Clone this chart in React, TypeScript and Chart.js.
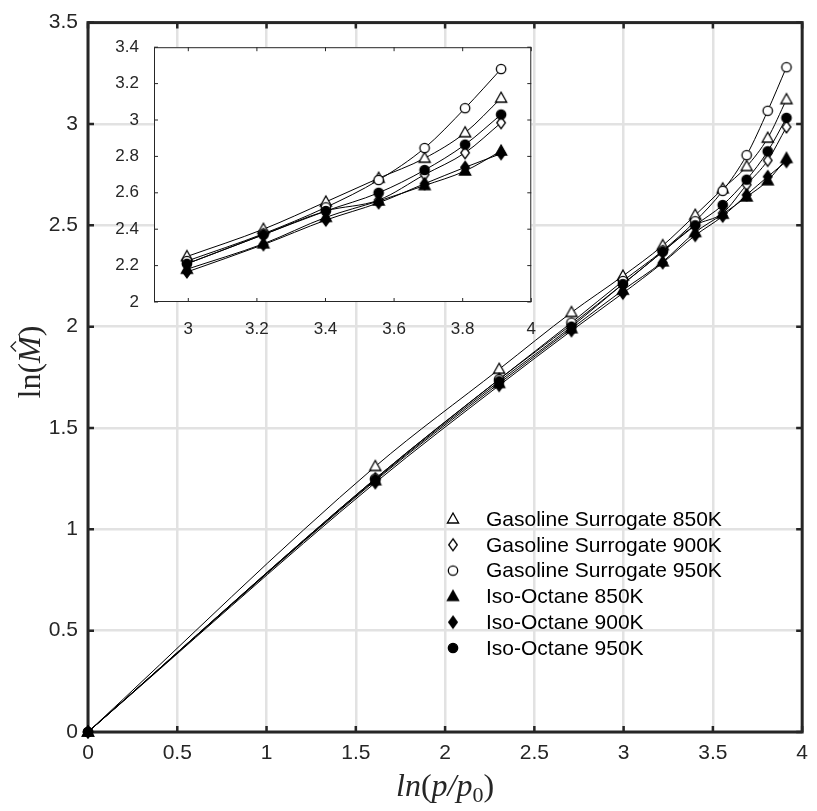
import React, { useEffect, useRef } from "react";
import { Chart, registerables } from "chart.js";

Chart.register(...registerables);

// ---------- data ----------
const X_VALUES = [0, 1.609, 2.303, 2.708, 2.996, 3.219, 3.401, 3.555, 3.689, 3.807, 3.912];
const GS_850 = [0, 1.31, 1.79, 2.07, 2.25, 2.4, 2.55, 2.68, 2.79, 2.93, 3.12];
const GS_900 = [0, 1.25, 1.74, 2.01, 2.21, 2.37, 2.5, 2.56, 2.7, 2.82, 2.985];
const GS_950 = [0, 1.25, 1.74, 2.02, 2.225, 2.375, 2.52, 2.67, 2.846, 3.065, 3.28];
const IO_850 = [0, 1.24, 1.72, 1.99, 2.18, 2.32, 2.465, 2.555, 2.64, 2.72, 2.83];
const IO_900 = [0, 1.23, 1.71, 1.98, 2.165, 2.315, 2.45, 2.545, 2.65, 2.74, 2.815];
const IO_950 = [0, 1.245, 1.73, 2.0, 2.21, 2.37, 2.5, 2.6, 2.725, 2.865, 3.03];

const SERIES_LABELS = [
  "Gasoline Surrogate 850K",
  "Gasoline Surrogate 900K",
  "Gasoline Surrogate 950K",
  "Iso-Octane 850K",
  "Iso-Octane 900K",
  "Iso-Octane 950K",
];
const SERIES_VALUES = [GS_850, GS_900, GS_950, IO_850, IO_900, IO_950];
const SERIES_SHAPES = ["triangle", "diamond", "circle", "triangle", "diamond", "circle"];
const SERIES_FILLED = [false, false, false, true, true, true];

const X_TICKS = [0, 0.5, 1, 1.5, 2, 2.5, 3, 3.5, 4];
const Y_TICKS = [0, 0.5, 1, 1.5, 2, 2.5, 3, 3.5];
const INSET_X_TICKS = [3, 3.2, 3.4, 3.6, 3.8, 4];
const INSET_Y_TICKS = [2, 2.2, 2.4, 2.6, 2.8, 3, 3.2, 3.4];
const INSET_X_MIN = 2.9;
const INSET_FIRST_X = 2.99; // inset shows points from ln(20) onward

// ---------- helpers ----------
const AXIS_COLOR = "#262626";
const GRID_COLOR = "#e2e2e2";
const SANS = "'Liberation Sans', Arial, sans-serif";
const SERIF = "'Liberation Serif', 'Times New Roman', serif";

function makeMarker(shape: string, filled: boolean): HTMLCanvasElement {
  const c = document.createElement("canvas");
  c.width = 18;
  c.height = 18;
  const g = c.getContext("2d")!;
  const cx = 9, cy = 9;
  g.beginPath();
  if (shape === "triangle") {
    g.moveTo(cx, cy - 6);
    g.lineTo(cx + 5.6, cy + 4);
    g.lineTo(cx - 5.6, cy + 4);
    g.closePath();
  } else if (shape === "diamond") {
    g.moveTo(cx, cy - 6);
    g.lineTo(cx + 4.3, cy);
    g.lineTo(cx, cy + 6);
    g.lineTo(cx - 4.3, cy);
    g.closePath();
  } else {
    g.arc(cx, cy, 4.7, 0, Math.PI * 2);
  }
  g.fillStyle = filled ? "#000" : "#fff";
  g.fill();
  g.lineWidth = 1.3;
  g.strokeStyle = "#000";
  g.stroke();
  return c;
}

const fmt = (v: number) => String(+Number(v).toFixed(2));

function buildDatasets(markers: HTMLCanvasElement[], minX: number) {
  return SERIES_LABELS.map((label, i) => ({
    label,
    data: X_VALUES.map((x, k) => ({ x, y: SERIES_VALUES[i][k] })).filter((p) => p.x >= minX),
    borderColor: "#000",
    borderWidth: 1,
    pointStyle: markers[i],
    pointRadius: 5,
    pointHoverRadius: 5,
    cubicInterpolationMode: "monotone" as const,
    fill: false,
    clip: false as const,
    order: SERIES_LABELS.length - i,
  }));
}

function drawInwardTicks(chart: any, xTicks: number[], yTicks: number[], len: number, width: number) {
  const { ctx, chartArea: a, scales } = chart;
  ctx.save();
  ctx.strokeStyle = AXIS_COLOR;
  ctx.lineWidth = width;
  ctx.beginPath();
  xTicks.forEach((v) => {
    const px = scales.x.getPixelForValue(v);
    ctx.moveTo(px, a.bottom);
    ctx.lineTo(px, a.bottom - len);
    ctx.moveTo(px, a.top);
    ctx.lineTo(px, a.top + len);
  });
  yTicks.forEach((v) => {
    const py = scales.y.getPixelForValue(v);
    ctx.moveTo(a.left, py);
    ctx.lineTo(a.left + len, py);
    ctx.moveTo(a.right, py);
    ctx.lineTo(a.right - len, py);
  });
  ctx.stroke();
  ctx.restore();
}

export default function App() {
  const mainRef = useRef<HTMLCanvasElement>(null);
  const insetRef = useRef<HTMLCanvasElement>(null);

  useEffect(() => {
    const markers = SERIES_SHAPES.map((s, i) => makeMarker(s, SERIES_FILLED[i]));

    const mainFrame = {
      id: "mainFrame",
      beforeDatasetsDraw(chart: any) {
        const { ctx, chartArea: a } = chart;
        drawInwardTicks(chart, X_TICKS, Y_TICKS, 6, 2.5);
        ctx.save();
        ctx.strokeStyle = AXIS_COLOR;
        ctx.lineWidth = 3;
        ctx.strokeRect(a.left, a.top, a.right - a.left, a.bottom - a.top);
        ctx.restore();
      },
      afterDraw(chart: any) {
        const { ctx, chartArea: a } = chart;
        ctx.save();
        // legend
        const lx = 453, tx = 486, ly0 = 519, dy = 25.8;
        ctx.font = `21px ${SANS}`;
        ctx.fillStyle = "#000";
        ctx.textBaseline = "middle";
        ctx.textAlign = "left";
        SERIES_LABELS.forEach((lab, i) => {
          const y = ly0 + i * dy;
          ctx.drawImage(markers[i], lx - 9, y - 9);
          ctx.fillText(lab, tx, y + 1);
        });

        // x-axis title: ln(p/p0)
        const fs = 32;
        const it = `italic ${fs}px ${SERIF}`;
        const up = `${fs}px ${SERIF}`;
        const sub = `${Math.round(fs * 0.7)}px ${SERIF}`;
        const segs = [
          { t: "ln", f: it, dy: 0 },
          { t: "(", f: up, dy: 0 },
          { t: "p/p", f: it, dy: 0 },
          { t: "0", f: sub, dy: 6 },
          { t: ")", f: up, dy: 0 },
        ];
        let total = 0;
        segs.forEach((s) => {
          ctx.font = s.f;
          total += ctx.measureText(s.t).width;
        });
        let x = (a.left + a.right) / 2 - total / 2;
        ctx.fillStyle = AXIS_COLOR;
        ctx.textBaseline = "alphabetic";
        const baseY = 796;
        segs.forEach((s) => {
          ctx.font = s.f;
          ctx.fillText(s.t, x, baseY + s.dy);
          x += ctx.measureText(s.t).width;
        });

        // y-axis title: ln(M^)
        ctx.translate(40, 362);
        ctx.rotate(-Math.PI / 2);
        const ysegs = [
          { t: "ln", f: up },
          { t: "(", f: up },
          { t: "M", f: it },
          { t: ")", f: up },
        ];
        let ytot = 0;
        ysegs.forEach((s) => {
          ctx.font = s.f;
          ytot += ctx.measureText(s.t).width;
        });
        let yx = -ytot / 2;
        ysegs.forEach((s) => {
          ctx.font = s.f;
          const w = ctx.measureText(s.t).width;
          ctx.fillText(s.t, yx, 0);
          if (s.t === "M") {
            const hx = yx + w / 2 + 3;
            ctx.beginPath();
            ctx.lineWidth = 1.3;
            ctx.strokeStyle = AXIS_COLOR;
            ctx.moveTo(hx - 5, -24);
            ctx.lineTo(hx, -29);
            ctx.lineTo(hx + 5, -24);
            ctx.stroke();
          }
          yx += w;
        });
        ctx.restore();
      },
    };

    const main = new Chart(mainRef.current!, {
      type: "line",
      data: { datasets: buildDatasets(markers, 0) as any },
      options: {
        responsive: false,
        animation: false,
        events: [],
        layout: { padding: { top: 20, right: 9, left: 0, bottom: 0 } },
        plugins: { legend: { display: false }, tooltip: { enabled: false } },
        scales: {
          x: {
            type: "linear",
            min: 0,
            max: 4,
            afterBuildTicks: (s: any) => {
              s.ticks = X_TICKS.map((v) => ({ value: v }));
            },
            afterFit: (s: any) => {
              s.height = 79;
            },
            grid: { color: GRID_COLOR, lineWidth: 2.5, drawTicks: false },
            border: { display: false },
            ticks: {
              padding: 9,
              color: AXIS_COLOR,
              font: { family: SANS, size: 21 },
              maxRotation: 0,
              autoSkip: false,
              callback: (v: any) => fmt(v),
            },
          },
          y: {
            type: "linear",
            min: 0,
            max: 3.5,
            afterBuildTicks: (s: any) => {
              s.ticks = Y_TICKS.map((v) => ({ value: v }));
            },
            afterFit: (s: any) => {
              s.width = 88;
            },
            grid: { color: GRID_COLOR, lineWidth: 2.5, drawTicks: false },
            border: { display: false },
            ticks: {
              padding: 10,
              color: AXIS_COLOR,
              font: { family: SANS, size: 21 },
              autoSkip: false,
              callback: (v: any) => fmt(v),
            },
          },
        },
      },
      plugins: [mainFrame],
    });

    const insetFrame = {
      id: "insetFrame",
      beforeDraw(chart: any) {
        const { ctx, chartArea: a } = chart;
        ctx.save();
        ctx.fillStyle = "#fff";
        ctx.fillRect(a.left, a.top, a.right - a.left, a.bottom - a.top);
        ctx.restore();
      },
      beforeDatasetsDraw(chart: any) {
        const { ctx, chartArea: a } = chart;
        drawInwardTicks(chart, INSET_X_TICKS, INSET_Y_TICKS, 4, 1);
        ctx.save();
        ctx.strokeStyle = AXIS_COLOR;
        ctx.lineWidth = 1;
        ctx.strokeRect(a.left + 0.5, a.top + 0.5, a.right - a.left - 1, a.bottom - a.top - 1);
        ctx.restore();
      },
    };

    const inset = new Chart(insetRef.current!, {
      type: "line",
      data: { datasets: buildDatasets(markers, INSET_FIRST_X) as any },
      options: {
        responsive: false,
        animation: false,
        events: [],
        layout: { padding: { top: 9, right: 10, left: 0, bottom: 0 } },
        plugins: { legend: { display: false }, tooltip: { enabled: false } },
        scales: {
          x: {
            type: "linear",
            min: INSET_X_MIN,
            max: 4,
            afterBuildTicks: (s: any) => {
              s.ticks = INSET_X_TICKS.map((v) => ({ value: v }));
            },
            afterFit: (s: any) => {
              s.height = 38;
            },
            grid: { display: false },
            border: { display: false },
            ticks: {
              padding: 9,
              color: AXIS_COLOR,
              font: { family: SANS, size: 17 },
              maxRotation: 0,
              autoSkip: false,
              callback: (v: any) => fmt(v),
            },
          },
          y: {
            type: "linear",
            min: 2,
            max: 3.4,
            afterBuildTicks: (s: any) => {
              s.ticks = INSET_Y_TICKS.map((v) => ({ value: v }));
            },
            afterFit: (s: any) => {
              s.width = 54;
            },
            grid: { display: false },
            border: { display: false },
            ticks: {
              padding: 7,
              color: AXIS_COLOR,
              font: { family: SANS, size: 17 },
              autoSkip: false,
              callback: (v: any) => fmt(v),
            },
          },
        },
      },
      plugins: [insetFrame],
    });

    return () => {
      main.destroy();
      inset.destroy();
    };
  }, []);

  return (
    <div style={{ position: "absolute", left: 0, top: 0, width: 817, height: 811, background: "#fff" }}>
      <canvas ref={mainRef} width={817} height={811} style={{ position: "absolute", left: 0, top: 0 }} />
      <canvas ref={insetRef} width={445} height={310} style={{ position: "absolute", left: 100, top: 30 }} />
    </div>
  );
}
